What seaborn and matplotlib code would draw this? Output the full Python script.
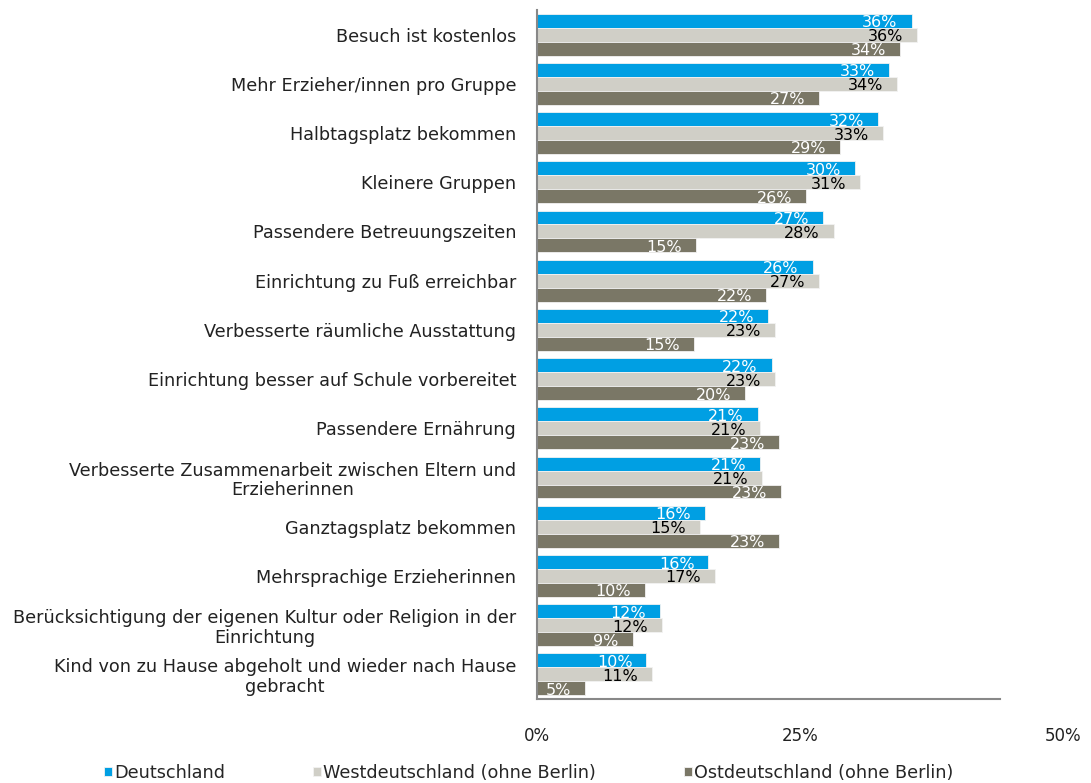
import matplotlib
matplotlib.use("Agg")
import matplotlib.pyplot as plt
import seaborn as sns
import pandas as pd

categories = [
    "Besuch ist kostenlos",
    "Mehr Erzieher/innen pro Gruppe",
    "Halbtagsplatz bekommen",
    "Kleinere Gruppen",
    "Passendere Betreuungszeiten",
    "Einrichtung zu Fuß erreichbar",
    "Verbesserte räumliche Ausstattung",
    "Einrichtung besser auf Schule vorbereitet",
    "Passendere Ernährung",
    "Verbesserte Zusammenarbeit zwischen Eltern und\nErzieherinnen",
    "Ganztagsplatz bekommen",
    "Mehrsprachige Erzieherinnen",
    "Berücksichtigung der eigenen Kultur oder Religion in der\nEinrichtung",
    "Kind von zu Hause abgeholt und wieder nach Hause\ngebracht",
]
series = ["Deutschland", "Westdeutschland (ohne Berlin)", "Ostdeutschland (ohne Berlin)"]

deutschland = [35.6, 33.5, 32.4, 30.2, 27.2, 26.2, 22.0, 22.3, 21.0, 21.2, 16.0, 16.3, 11.7, 10.4]
west = [36.1, 34.2, 32.9, 30.7, 28.2, 26.8, 22.6, 22.6, 21.2, 21.4, 15.5, 16.9, 11.9, 10.9]
ost = [34.5, 26.8, 28.8, 25.6, 15.1, 21.8, 14.9, 19.8, 23.0, 23.2, 23.0, 10.3, 9.1, 4.6]

labels_d = ["36%", "33%", "32%", "30%", "27%", "26%", "22%", "22%", "21%", "21%", "16%", "16%", "12%", "10%"]
labels_w = ["36%", "34%", "33%", "31%", "28%", "27%", "23%", "23%", "21%", "21%", "15%", "17%", "12%", "11%"]
labels_o = ["34%", "27%", "29%", "26%", "15%", "22%", "15%", "20%", "23%", "23%", "23%", "10%", "9%", "5%"]

xticks = [0, 25, 50]
xticklabels = ["0%", "25%", "50%"]

colors = ["#009FE3", "#D0CFC7", "#7A7766"]
label_colors = ["white", "black", "white"]

rows = []
for s, vals in zip(series, [deutschland, west, ost]):
    for c, v in zip(categories, vals):
        rows.append({"Kategorie": c, "Serie": s, "Wert": v})
df = pd.DataFrame(rows)

sns.set_theme(style="white")
plt.rcParams["font.family"] = ["DejaVu Sans"]

fig = plt.figure(figsize=(10.91, 7.83), dpi=100)
ax = fig.add_axes([537 / 1091, 1 - 699 / 783, (1063 - 537) / 1091, (699 - 10) / 783])

sns.barplot(data=df, y="Kategorie", x="Wert", hue="Serie", order=categories,
            hue_order=series, palette=colors, saturation=1, width=0.85, orient="h",
            edgecolor="#F2F2F2", linewidth=0.6, errorbar=None, ax=ax)

for cont, labs, lc in zip(ax.containers, [labels_d, labels_w, labels_o], label_colors):
    for bar, lab in zip(cont, labs):
        ax.annotate(lab, (bar.get_width(), bar.get_y() + bar.get_height() / 2),
                    xytext=(-14, -2), textcoords="offset pixels",
                    ha="right", va="center", fontsize=11.5, color=lc)

ax.set_xlim(0, 50)
ax.set_ylim(len(categories) - 0.5, -0.5)
ax.set_xticks(xticks)
ax.set_xticklabels(xticklabels)
ax.set_xlabel("")
ax.set_ylabel("")
ax.tick_params(axis="x", length=0, pad=20, labelsize=12, labelcolor="#222222")
ax.tick_params(axis="y", length=0, pad=15, labelsize=12.7, labelcolor="#222222")
for lbl in ax.get_yticklabels():
    lbl.set_multialignment("center")
    lbl.set_linespacing(1.1)

for side in ["top", "right"]:
    ax.spines[side].set_visible(False)
ax.spines["left"].set_color("#888888")
ax.spines["left"].set_linewidth(1.5)
ax.spines["bottom"].set_color("#888888")
ax.spines["bottom"].set_linewidth(1.5)
ax.spines["bottom"].set_bounds(0, 44)

handles, labs = ax.get_legend_handles_labels()
ax.get_legend().remove()
fig.legend(handles, labs, loc="center left", bbox_to_anchor=(104 / 1091, 1 - 773 / 783),
           ncol=3, frameon=False, fontsize=12.7, handlelength=0.45, handleheight=0.45,
           handletextpad=0.12, columnspacing=5.0, borderpad=0, borderaxespad=0)

fig.savefig("out.png", dpi=100)
